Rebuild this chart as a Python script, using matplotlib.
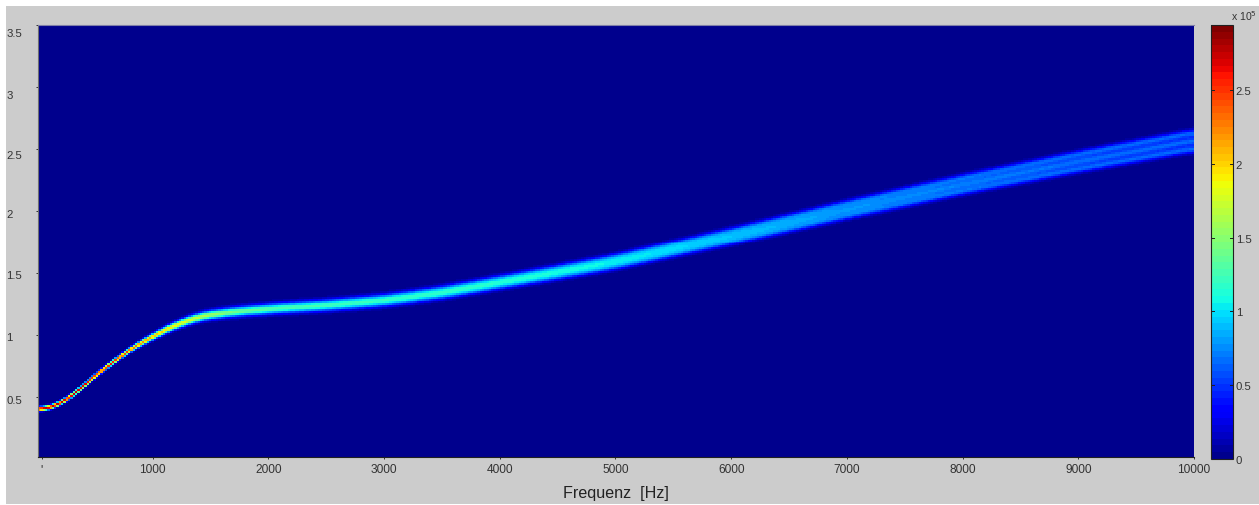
import numpy as np
import matplotlib
matplotlib.use("Agg")
import matplotlib.pyplot as plt
from matplotlib.patches import Rectangle
from matplotlib.transforms import ScaledTranslation
from matplotlib.cm import ScalarMappable
from matplotlib.colors import Normalize, ListedColormap

plt.rcParams['font.family'] = ['Liberation Sans', 'DejaVu Sans']

# Values
freq_knots = [9, 100, 200, 300, 500, 700, 800, 1000, 1200, 1415, 1700, 2100, 2500, 3000, 3500, 4000, 4500, 5000, 6000, 7000, 8000, 9000, 10000]
ridge_knots = [0.392, 0.40, 0.44, 0.505, 0.666, 0.81, 0.875, 0.985, 1.076, 1.145, 1.18, 1.21, 1.232, 1.272, 1.335, 1.418, 1.50, 1.585, 1.795, 2.012, 2.215, 2.40, 2.57]
peak_knots = [2.75, 2.75, 2.75, 2.72, 2.68, 2.55, 2.4, 2.1, 1.9, 1.65, 1.4, 1.28, 1.24, 1.2, 1.18, 1.15, 1.1, 1.05, 0.92, 0.8, 0.73, 0.68, 0.66]
sigma_knots = [0.009, 0.009, 0.009, 0.010, 0.011, 0.012, 0.013, 0.017, 0.020, 0.022, 0.023, 0.023, 0.023, 0.023, 0.023, 0.023, 0.023, 0.023, 0.023, 0.023, 0.023, 0.023, 0.023]
spacing_knots = [0.009, 0.009, 0.009, 0.008, 0.006, 0.005, 0.005, 0.005, 0.007, 0.012, 0.016, 0.020, 0.022, 0.025, 0.028, 0.030, 0.033, 0.036, 0.042, 0.048, 0.053, 0.059, 0.064]

x_ticks = [41, 1000, 2000, 3000, 4000, 5000, 6000, 7000, 8000, 9000, 10000]
x_labels = ["'", '1000', '2000', '3000', '4000', '5000', '6000', '7000', '8000', '9000', '10000']
y_ticks = [0.5, 1, 1.5, 2, 2.5, 3, 3.5]
y_labels = ['0.5', '1', '1.5', '2', '2.5', '3', '3.5']
y_label_shift_px = [2.4, 1.5, 1.6, 1.7, 4.8, 7, 7]
cb_ticks = [0, 0.5e5, 1e5, 1.5e5, 2e5, 2.5e5]
cb_labels = ['0', '0.5', '1', '1.5', '2', '2.5']
x_label = 'Frequenz  [Hz]'
cb_scale = 'x 10$^{5}$'

W, H = 1259, 506
XLIM = (9, 10000)
YLIM = (0.014, 3.49)
VMAX = 2.94e5
GRAY = '#cccccc'
TXT = '#333333'


def box(l, t, r, b):
    return [l / W, 1 - b / H, (r - l) / W, (b - t) / H]


def smooth(a, n=5):
    pad = np.r_[np.full(n, a[0]), a, np.full(n, a[-1])]
    return np.convolve(pad, np.ones(2 * n + 1) / (2 * n + 1), mode='valid')


fig = plt.figure(figsize=(W / 100, H / 100), dpi=100, facecolor='white')
fig.add_artist(Rectangle((6 / W, 1 / H), 1 - 6 / W, 498 / H, transform=fig.transFigure,
                         facecolor=GRAY, edgecolor='none', zorder=-10))

# Heat map built from the ridge readings on a coarse grid
nx, ny = 500, 216
fx = np.linspace(XLIM[0], XLIM[1], nx)
fy = np.linspace(YLIM[0], YLIM[1], ny)
center = smooth(np.interp(fx, freq_knots, ridge_knots))
peak = smooth(np.interp(fx, freq_knots, peak_knots)) * 1e5
sigma = smooth(np.interp(fx, freq_knots, sigma_knots))
space = smooth(np.interp(fx, freq_knots, spacing_knots))
Y = fy[:, None]
Z = np.zeros((ny, nx))
for k in (-1, 0, 1):
    Z += np.exp(-0.5 * ((Y - center - k * space) / sigma) ** 2)
Z *= peak / (1 + 2 * np.exp(-0.5 * (space / sigma) ** 2))

# 64-level jet that starts at (0, 0, 0.5625)
cmap = ListedColormap(plt.get_cmap('jet')(np.linspace(0.014, 1, 64)))
norm = Normalize(0, VMAX)

ax = fig.add_axes(box(38, 26, 1194, 458))
ax.imshow(Z, origin='lower', aspect='auto', cmap=cmap, norm=norm,
          extent=[XLIM[0], XLIM[1], YLIM[0], YLIM[1]], interpolation='nearest')
ax.set_xlim(XLIM)
ax.set_ylim(YLIM)
ax.spines['right'].set_visible(False)
ax.spines['top'].set_color('#7f7fa8')
ax.spines['left'].set_color('#707070')
ax.spines['bottom'].set_color('#202020')
for s in ax.spines.values():
    s.set_linewidth(0.8)

ax.set_xticks(x_ticks, x_labels)
ax.set_yticks(y_ticks, y_labels)
ax.tick_params(axis='x', length=1.5, width=0.7, pad=3, labelsize=8.6, labelcolor=TXT, color='#303030')
ax.tick_params(axis='y', length=1.5, width=0.7, pad=21.5, labelsize=8.2, labelcolor=TXT, color='#303030')
for lab, dy in zip(ax.get_yticklabels(), y_label_shift_px):
    lab.set_ha('left')
    lab.set_transform(lab.get_transform() + ScaledTranslation(0, -dy / 100, fig.dpi_scale_trans))
ax.set_xlabel(x_label, fontsize=11.6, color='#222222', labelpad=7)

# Colour bar
cax = fig.add_axes(box(1211, 26, 1233, 460))
cb = fig.colorbar(ScalarMappable(norm=norm, cmap=cmap), cax=cax)
cb.set_ticks(cb_ticks, labels=cb_labels)
cb.ax.tick_params(axis='y', length=0, labelsize=8.2, labelcolor=TXT, pad=2)
cb.outline.set_edgecolor('#202020')
cb.outline.set_linewidth(0.8)
for v in cb_ticks[1:]:
    cax.plot([0, 0.12], [v, v], transform=cax.get_yaxis_transform(), color='#202020', lw=0.7)
    cax.plot([0.88, 1], [v, v], transform=cax.get_yaxis_transform(), color='#202020', lw=0.7)
fig.text(1231 / W, 1 - 16 / H, cb_scale, fontsize=7.6, color=TXT, ha='left', va='center')

fig.savefig('out.png', dpi=100, facecolor='white')
